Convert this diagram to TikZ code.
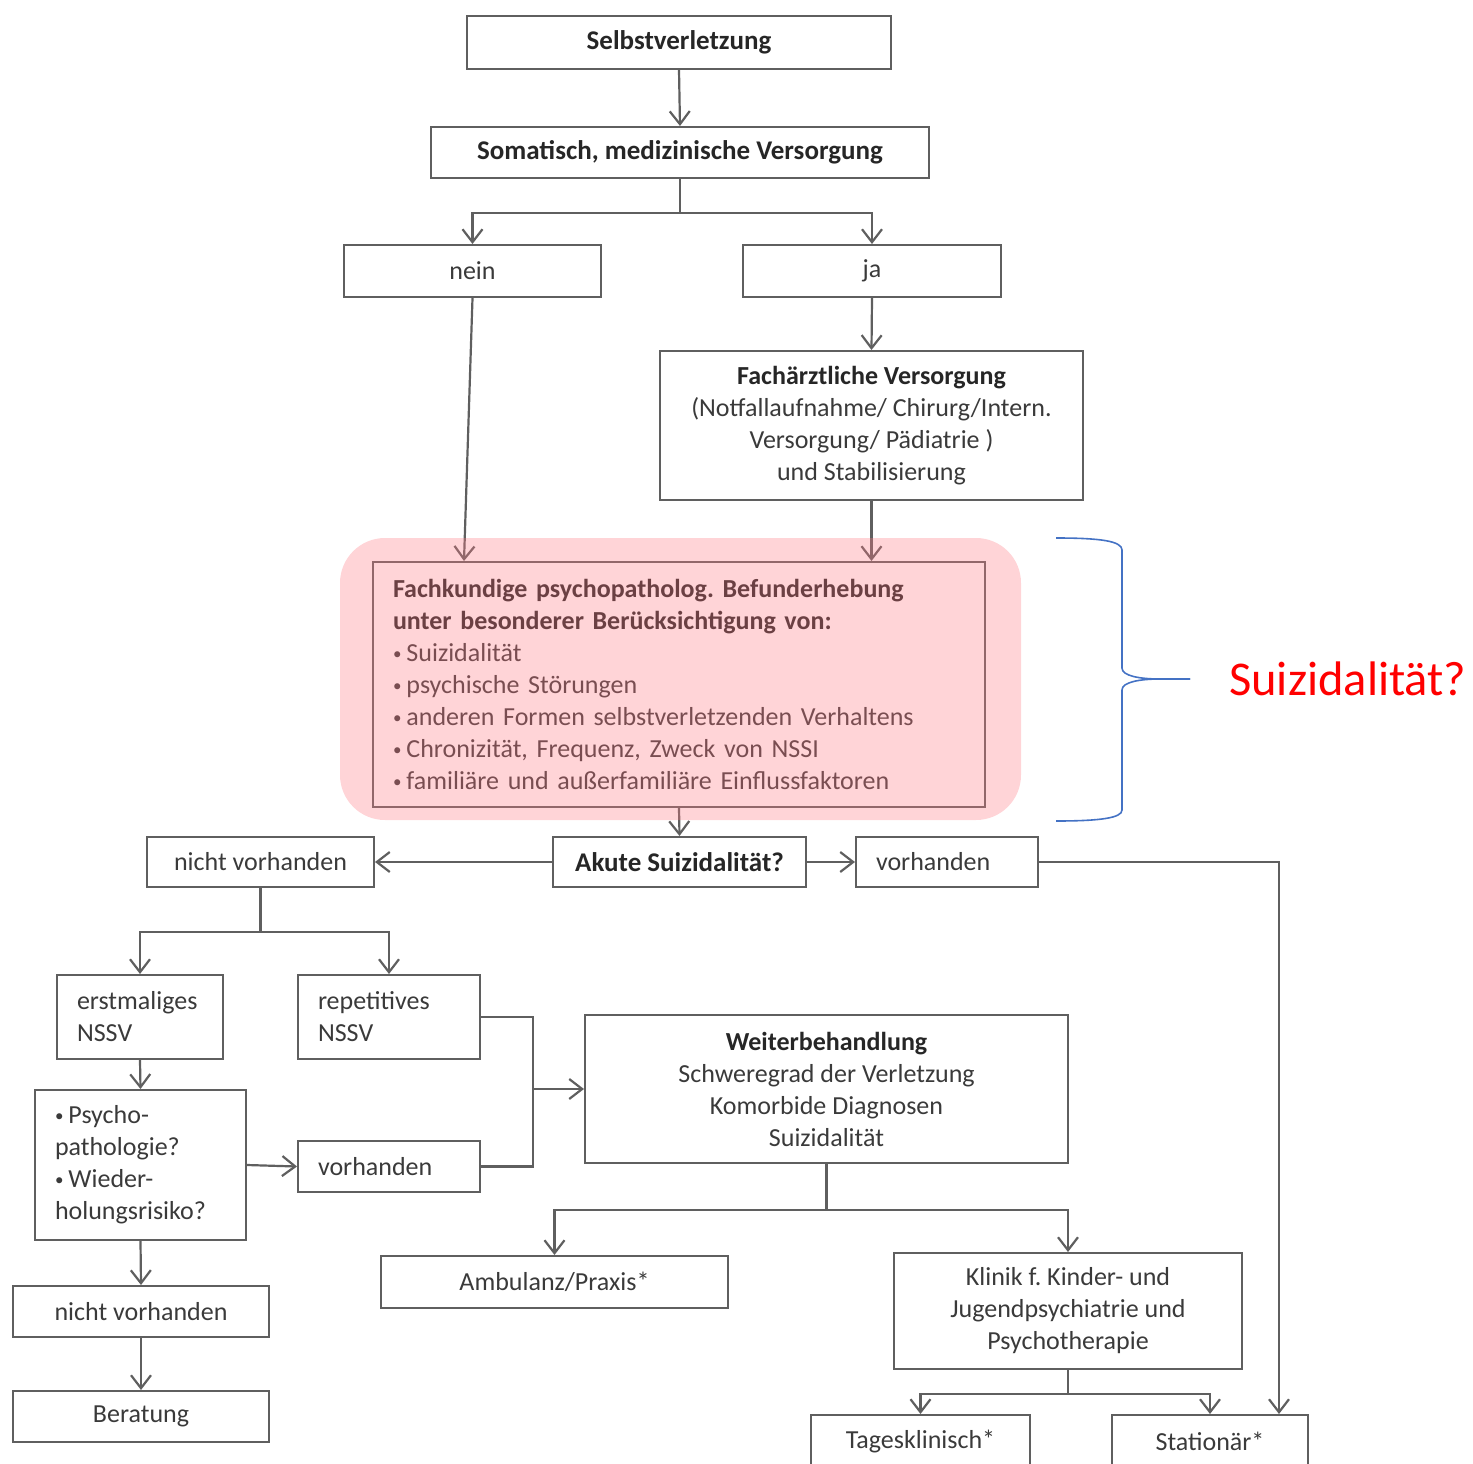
\documentclass[tikz,border=0pt]{standalone}
\usepackage{fontspec}
\setmainfont{Carlito}
\usetikzlibrary{arrows.meta,calc}
\definecolor{linegray}{HTML}{5F5F5F}
\definecolor{txtgray}{HTML}{3A3A3A}
\definecolor{txtdark}{HTML}{262626}
\definecolor{pinkov}{RGB}{255,120,130}
\definecolor{bracketblue}{RGB}{68,114,196}
\frenchspacing
% small list bullet
\newcommand{\lbul}{{\fontsize{17}{17}\selectfont\raisebox{2.5pt}{•}}\hspace{5pt}}
\begin{document}
\begin{tikzpicture}[x=1pt,y=-1pt,
  box/.style={draw=linegray, line width=2pt, inner sep=0pt, align=center,
    text=txtgray, font=\fontsize{26}{32}\selectfont},
  lbox/.style={box, align=left, inner xsep=20pt, inner ysep=0pt},
  bbox/.style={box, text=txtdark, font=\fontsize{27}{32}\selectfont\bfseries},
  conn/.style={draw=linegray, line width=2.2pt},
  arr/.style={conn, -{Straight Barb[length=13pt,width=20pt]}}]
\useasboundingbox (0,0) rectangle (1473,1464);

% boxes of the flow chart
\node[bbox, minimum width=424pt, minimum height=53pt] (self) at (679,42.5) {Selbstverletzung};
\node[bbox, minimum width=498pt, minimum height=51pt] (soma) at (680,152.5) {Somatisch, medizinische Versorgung};
\node[box, minimum width=257pt, minimum height=52pt] (nein) at (472.5,271) {nein};
\node[box, minimum width=258pt, minimum height=52pt] (ja) at (872,271) {ja};
\node[box, minimum width=423pt, minimum height=149pt] (fach) at (871.5,425.5)
  {{\color{txtdark}\bfseries Fachärztliche Versorgung}\\(Notfallaufnahme/ Chirurg/Intern.\\Versorgung/ Pädiatrie )\\und Stabilisierung};
\node[lbox, text width=572pt, minimum height=245pt] (fk) at (679,684.5)
  {{\color{txtdark}\bfseries Fachkundige psychopatholog. Befunderhebung}\\
   {\color{txtdark}\bfseries unter besonderer Berücksichtigung von:}\\
   \lbul Suizidalität\\
   \lbul psychische Störungen\\
   \lbul anderen Formen selbstverletzenden Verhaltens\\
   \lbul Chronizität, Frequenz, Zweck von NSSI\\
   \lbul familiäre und außerfamiliäre Einflussfaktoren};
\node[bbox, minimum width=253pt, minimum height=50pt] (akute) at (679.5,862) {Akute Suizidalität?};
\node[box, minimum width=227pt, minimum height=50pt] (nv1) at (260.5,862) {nicht vorhanden};
\node[lbox, text width=142pt, minimum height=50pt] (vh1) at (947,862) {vorhanden};
\node[lbox, text width=126pt, minimum height=84pt] (erst) at (140,1017) {erstmaliges\\NSSV};
\node[lbox, text width=142pt, minimum height=84pt] (rep) at (389,1017) {repetitives\\NSSV};
\node[lbox, text width=171pt, minimum height=150pt] (psy) at (140.5,1165)
  {\lbul Psycho-\\pathologie?\\\lbul Wieder-\\holungsrisiko?};
\node[lbox, text width=142pt, minimum height=51pt] (vh2) at (389,1166.5) {vorhanden};
\node[box, minimum width=483pt, minimum height=148pt] (weiter) at (826.5,1089)
  {{\color{txtdark}\bfseries Weiterbehandlung}\\Schweregrad der Verletzung\\Komorbide Diagnosen\\Suizidalität};
\node[box, minimum width=347pt, minimum height=52pt] (amb) at (554.5,1282) {Ambulanz/Praxis*};
\node[box, minimum width=348pt, minimum height=116pt] (klinik) at (1068,1311)
  {Klinik f. Kinder- und\\Jugendpsychiatrie und\\Psychotherapie};
\node[box, minimum width=256pt, minimum height=51pt] (nv2) at (141,1311.5) {nicht vorhanden};
\node[box, minimum width=256pt, minimum height=51pt] (ber) at (141,1416.5) {Beratung};
\node[box, minimum width=219pt, minimum height=52pt] (tag) at (920.5,1441) {Tagesklinisch*};
\node[box, minimum width=196pt, minimum height=52pt] (stat) at (1210,1441) {Stationär*};

% connectors
\draw[arr] (self.south) -- (soma.north);
\draw[arr] (soma.south) -- ++(0,34) -| (nein.north);
\draw[arr] (soma.south) -- ++(0,34) -| (ja.north);
\draw[arr] (ja.south) -- (fach.north);
\draw[arr] (nein.south) -- ($(fk.north west)+(92,0)$);
\draw[arr] (fach.south) -- (fach.south |- fk.north);
\draw[arr] (fk.south) -- (akute.north);
\draw[arr] (akute.west) -- (nv1.east);
\draw[arr] (akute.east) -- (vh1.west);
\draw[arr] (vh1.east) -| ($(stat.north east)+(-30,0)$);
\draw[arr] (nv1.south) -- ++(0,44) -| (erst.north);
\draw[arr] (nv1.south) -- ++(0,44) -| (rep.north);
\draw[arr] (erst.south) -- (psy.north);
\draw[arr] (psy.east) -- (vh2.west);
\coordinate (join) at ($(rep.east)+(52,0)$);
\draw[conn] (rep.east) -- (join) |- (vh2.east);
\draw[arr] (join |- weiter.west) -- (weiter.west);
\draw[arr] (weiter.south) -- ++(0,46) -| (amb.north);
\draw[arr] (weiter.south) -- ++(0,46) -| (klinik.north);
\draw[arr] (psy.south) -- (nv2.north);
\draw[arr] (nv2.south) -- (ber.north);
\draw[arr] (klinik.south) -- ++(0,24) -| (tag.north);
\draw[arr] (klinik.south) -- ++(0,24) -| (stat.north);

% translucent highlight over the assessment box
\fill[pinkov, fill opacity=0.32, rounded corners=45pt] (340,538) rectangle (1021,820);

% curly bracket with its label
\draw[bracketblue, line width=1.6pt]
  (1056,538) .. controls (1100,538) and (1122,541) .. (1122,550) -- (1122,668)
  .. controls (1122,676) and (1140,679) .. (1160,679) -- (1190,679);
\draw[bracketblue, line width=1.6pt]
  (1190,679) -- (1160,679) .. controls (1140,679) and (1122,682) .. (1122,690)
  -- (1122,810) .. controls (1122,818) and (1100,821) .. (1056,821);
\node[text=red, font=\fontsize{48.5}{56}\selectfont, anchor=west, inner sep=0pt] (susp) at (1229,679) {Suizidalität?};
\end{tikzpicture}
\end{document}
